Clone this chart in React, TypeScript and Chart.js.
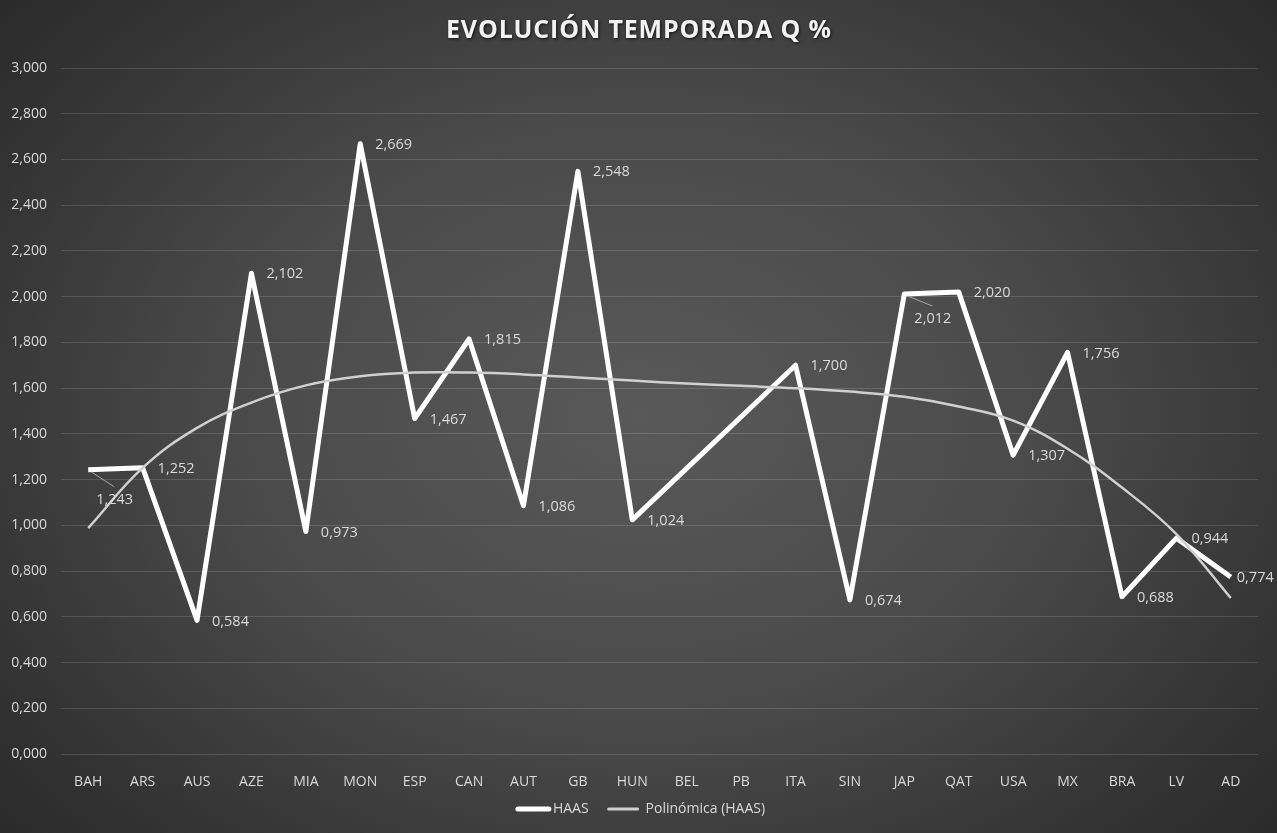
import React, { useEffect, useRef } from "react";
import { Chart, registerables } from "chart.js";

Chart.register(...registerables);

// ---- Data ----
const categories = [
  "BAH", "ARS", "AUS", "AZE", "MIA", "MON", "ESP", "CAN", "AUT", "GB", "HUN",
  "BEL", "PB", "ITA", "SIN", "JAP", "QAT", "USA", "MX", "BRA", "LV", "AD",
];
const haasValues: (number | null)[] = [
  1.243, 1.252, 0.584, 2.102, 0.973, 2.669, 1.467, 1.815, 1.086, 2.548, 1.024,
  null, null, 1.7, 0.674, 2.012, 2.02, 1.307, 1.756, 0.688, 0.944, 0.774,
];
const trendValues = [
  0.988, 1.251, 1.426, 1.537, 1.612, 1.652, 1.668, 1.668, 1.66, 1.647, 1.633,
  1.62, 1.61, 1.6, 1.585, 1.562, 1.52, 1.458, 1.335, 1.165, 0.962, 0.682,
];
const yTickValues = [0, 0.2, 0.4, 0.6, 0.8, 1.0, 1.2, 1.4, 1.6, 1.8, 2.0, 2.2, 2.4, 2.6, 2.8, 3.0];
const chartTitle = "EVOLUCIÓN TEMPORADA Q %";
const seriesNames = ["HAAS", "Polinómica (HAAS)"];

const fmt = (v: number) => v.toFixed(3).replace(".", ",");

const FONT = '"Open Sans", "Noto Sans", sans-serif';
const TEXT_COLOR = "#d9d9d9";
const HAAS_COLOR = "#ffffff";
const TREND_COLOR = "#d0d0d0";

// label placement exceptions (by category)
const labelPlacement: Record<string, { dx: number; dy: number; leader?: boolean }> = {
  BAH: { dx: 8, dy: 30, leader: true },
  JAP: { dx: 10, dy: 25, leader: true },
  AD: { dx: 6, dy: 1 },
};

const decorPlugin = {
  id: "decor",
  afterDatasetsDraw(chart: any) {
    const ctx: CanvasRenderingContext2D = chart.ctx;
    const meta = chart.getDatasetMeta(0);
    ctx.save();
    ctx.font = `14.5px ${FONT}`;
    ctx.fillStyle = TEXT_COLOR;
    ctx.textBaseline = "middle";
    ctx.textAlign = "left";
    meta.data.forEach((pt: any, i: number) => {
      const v = haasValues[i];
      if (v == null) return;
      const cat = categories[i];
      const p = labelPlacement[cat] || { dx: 15, dy: 1 };
      const x = pt.x + p.dx;
      const y = pt.y + p.dy;
      if (p.leader) {
        ctx.save();
        ctx.strokeStyle = "#a6a6a6";
        ctx.lineWidth = 1;
        ctx.beginPath();
        ctx.moveTo(pt.x + 3, pt.y + 2);
        ctx.lineTo(x + 18, y - 13);
        ctx.stroke();
        ctx.restore();
      }
      ctx.fillText(fmt(v), x, y);
    });
    ctx.restore();
  },
  afterDraw(chart: any) {
    const ctx: CanvasRenderingContext2D = chart.ctx;
    const W = chart.width;
    // Title
    ctx.save();
    ctx.font = `bold 25px ${FONT}`;
    (ctx as any).letterSpacing = "0px";
    const w0 = ctx.measureText(chartTitle).width;
    const n = chartTitle.length;
    const spacing = Math.max(0, (385 - w0) / (n - 1));
    (ctx as any).letterSpacing = `${spacing}px`;
    const w1 = ctx.measureText(chartTitle).width - spacing;
    ctx.textBaseline = "middle";
    ctx.textAlign = "left";
    ctx.shadowColor = "rgba(0,0,0,0.7)";
    ctx.shadowBlur = 3;
    ctx.shadowOffsetX = 1;
    ctx.shadowOffsetY = 1;
    ctx.fillStyle = "#f2f2f2";
    ctx.fillText(chartTitle, W / 2 - w1 / 2, 31);
    ctx.restore();

    // Legend
    ctx.save();
    ctx.font = `14px ${FONT}`;
    ctx.textBaseline = "middle";
    ctx.textAlign = "left";
    const t1 = ctx.measureText(seriesNames[0]).width;
    const t2 = ctx.measureText(seriesNames[1]).width;
    const l1 = 35, g1 = 2, gap = 19, l2 = 31, g2 = 7;
    const total = l1 + g1 + t1 + gap + l2 + g2 + t2;
    let x = W / 2 + 2 - total / 2;
    const y = 809;
    ctx.strokeStyle = HAAS_COLOR;
    ctx.lineWidth = 5;
    ctx.lineCap = "round";
    ctx.beginPath();
    ctx.moveTo(x + 2, y);
    ctx.lineTo(x + l1 - 2, y);
    ctx.stroke();
    x += l1 + g1;
    ctx.fillStyle = TEXT_COLOR;
    ctx.fillText(seriesNames[0], x, y);
    x += t1 + gap;
    ctx.strokeStyle = TREND_COLOR;
    ctx.lineWidth = 3;
    ctx.beginPath();
    ctx.moveTo(x + 1, y);
    ctx.lineTo(x + l2 - 1, y);
    ctx.stroke();
    x += l2 + g2;
    ctx.fillText(seriesNames[1], x, y);
    ctx.restore();
  },
};

export default function App() {
  const canvasRef = useRef<HTMLCanvasElement | null>(null);

  useEffect(() => {
    const canvas = canvasRef.current;
    if (!canvas) return;
    const chart = new Chart(canvas, {
      type: "line",
      data: {
        labels: categories,
        datasets: [
          {
            label: seriesNames[0],
            data: haasValues,
            borderColor: HAAS_COLOR,
            borderWidth: 5,
            pointRadius: 0,
            pointHoverRadius: 0,
            tension: 0,
            spanGaps: true,
            borderJoinStyle: "round",
            order: 1,
          },
          {
            label: seriesNames[1],
            data: trendValues,
            borderColor: TREND_COLOR,
            borderWidth: 2.5,
            pointRadius: 0,
            pointHoverRadius: 0,
            tension: 0.4,
            order: 0,
          },
        ],
      },
      options: {
        responsive: false,
        animation: false,
        events: [],
        layout: { padding: { left: 0, top: 68, right: 19, bottom: 39 } },
        plugins: {
          legend: { display: false },
          title: { display: false },
          tooltip: { enabled: false },
        },
        scales: {
          x: {
            offset: true,
            grid: { display: false },
            border: { display: false },
            ticks: {
              color: TEXT_COLOR,
              font: { family: FONT, size: 14 },
              padding: 12,
              maxRotation: 0,
              autoSkip: false,
            },
            afterFit: (scale: any) => {
              scale.height = 40;
            },
          },
          y: {
            min: 0,
            max: 3,
            afterBuildTicks: (scale: any) => {
              scale.ticks = yTickValues.map((v) => ({ value: v }));
            },
            grid: {
              color: "rgba(255,255,255,0.14)",
              lineWidth: 1,
              drawTicks: false,
            },
            border: { display: false },
            ticks: {
              color: TEXT_COLOR,
              font: { family: FONT, size: 14 },
              padding: 14,
              callback: (v: any) => fmt(Number(v)),
            },
            afterFit: (scale: any) => {
              scale.width = 61;
            },
          },
        },
      },
      plugins: [decorPlugin],
    });
    return () => chart.destroy();
  }, []);

  return (
    <div
      style={{
        position: "fixed",
        left: 0,
        top: 0,
        width: 1277,
        height: 833,
        background:
          "radial-gradient(ellipse 70% 80% at 50% 50%, #595959 0%, #4a4a4a 45%, #333333 80%, #282828 100%)",
      }}
    >
      <canvas ref={canvasRef} width={1277} height={833} style={{ display: "block" }} />
    </div>
  );
}
